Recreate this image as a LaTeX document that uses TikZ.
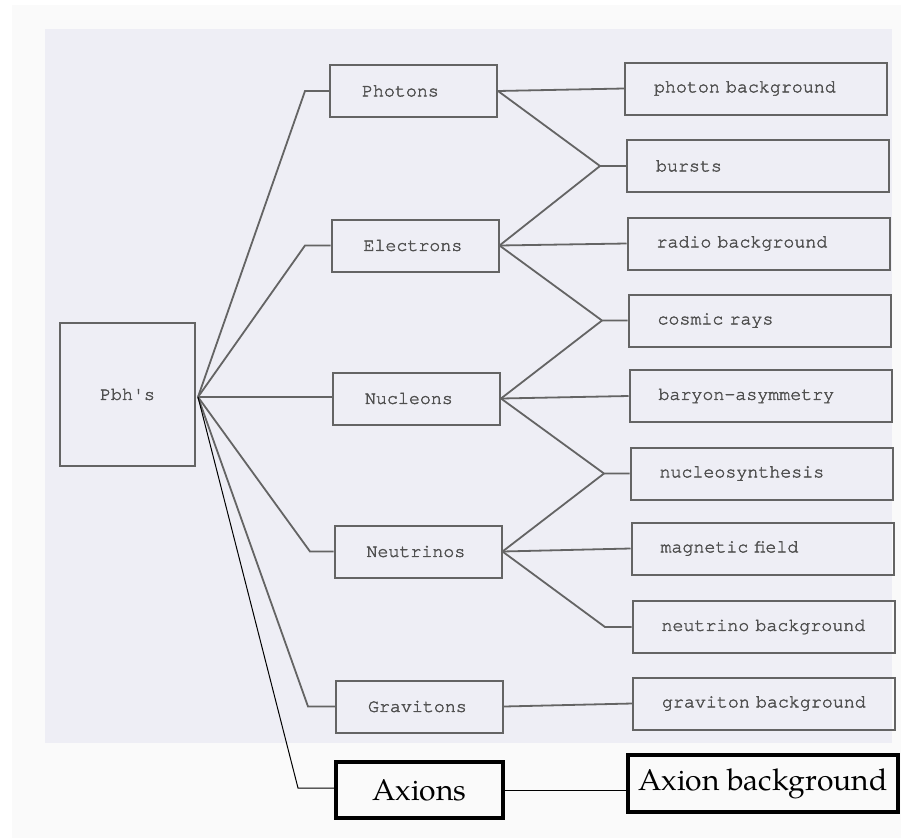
\documentclass[tikz,border=0pt]{standalone}
\usepackage{fontspec}
\setmonofont[FakeBold=2]{texgyrecursor-regular.otf}
\newfontfamily\axfont{texgyrepagella-regular.otf}
\usetikzlibrary{calc}
\definecolor{scan}{RGB}{238,238,245}
\definecolor{page}{RGB}{250,250,250}
\definecolor{lgrey}{RGB}{100,100,100}
\definecolor{tgrey}{RGB}{80,80,80}
\newcommand\twfont{\ttfamily\fontsize{18.3}{20}\selectfont}
\tikzset{
  conn/.style={draw=lgrey, line width=1.8pt},
  aconn/.style={draw=black, line width=1pt},
  box/.style={draw=lgrey, line width=2pt, minimum height=52pt, align=left,
    font=\twfont, text=tgrey, inner ysep=0pt,
    execute at begin node={\hbox\bgroup}, execute at end node={\egroup}},
  lbox/.style={box, inner xsep=32pt, text width=103pt},
  rbox/.style={box, inner xsep=29pt, text width=204pt},
  abox/.style={draw=black, line width=4pt, minimum height=56pt, inner xsep=0pt,
    font=\axfont\fontsize{30}{32}\selectfont, text=black}
}
\begin{document}
\begin{tikzpicture}[x=1pt,y=-1pt]
\useasboundingbox (0,0) rectangle (901,838);
\fill[white] (0,0) rectangle (901,838);
\fill[page] (12,5) rectangle (901,838);
\fill[scan] (45,29) rectangle (892,743);

% left column
\node[box, minimum width=135pt, minimum height=143pt, inner xsep=0pt, align=center] (pbh) at (127.5,394.5) {Pbh's};
\node[lbox] (photons) at (413.5,91) {Photons};
\node[lbox] (electrons) at (415,245.5) {Electrons};
\node[lbox] (nucleons) at (416.5,398.5) {Nucleons};
\node[lbox] (neutrinos) at (418,551.5) {Neutrinos};
\node[lbox] (gravitons) at (419.5,706.5) {Gravitons};
\node[abox, minimum width=167pt] (axions) at (419.5,790) {Axions};

% right column
\node[rbox] (phbg) at (756,88.5) {photon background};
\node[rbox] (bursts) at (758,166) {bursts};
\node[rbox] (radio) at (758.5,243.5) {radio background};
\node[rbox] (cosmic) at (759.5,320.5) {cosmic rays};
\node[rbox] (baryon) at (760.5,396) {baryon-asymmetry};
\node[rbox] (nucleo) at (761.5,473.5) {nucleosynthesis};
\node[rbox] (magn) at (762.5,548.5) {magnetic field};
\node[rbox] (nubg) at (763.5,627) {neutrino background};
\node[rbox] (gravbg) at (764,703.5) {graviton background};
\node[abox, minimum width=270pt, minimum height=57pt] (axbg) at (763,783.5) {Axion background};

% elbow coordinates
\coordinate (hub) at (198,397);
\coordinate (e1) at (305,91);
\coordinate (e2) at (305,245.5);
\coordinate (e4) at (310,551.5);
\coordinate (e5) at (308,706.5);
\coordinate (e6) at (298,788);
\coordinate (j1) at (600,166);
\coordinate (j2) at (602,320.5);
\coordinate (j3) at (604,473.5);
\coordinate (j4) at (605,627);

% left fan
\draw[conn] (hub) -- (e1) -- (photons.west);
\draw[conn] (hub) -- (e2) -- (electrons.west);
\draw[conn] (hub) -- (hub -| nucleons.west);
\draw[conn] (hub) -- (e4) -- (neutrinos.west);
\draw[conn] (hub) -- (e5) -- (gravitons.west);
\draw[aconn] (hub) -- (e6) -- (e6 -| axions.west);

% right connections
\draw[conn] (photons.east) -- (phbg.west);
\draw[conn] (photons.east) -- (j1) -- (bursts.west);
\draw[conn] (electrons.east) -- (j1);
\draw[conn] (electrons.east) -- (radio.west);
\draw[conn] (electrons.east) -- (j2) -- (cosmic.west);
\draw[conn] (nucleons.east) -- (j2);
\draw[conn] (nucleons.east) -- (baryon.west);
\draw[conn] (nucleons.east) -- (j3) -- (nucleo.west);
\draw[conn] (neutrinos.east) -- (j3);
\draw[conn] (neutrinos.east) -- (magn.west);
\draw[conn] (neutrinos.east) -- (j4) -- (nubg.west);
\draw[conn] (gravitons.east) -- (gravbg.west);
\draw[aconn] (axions.east) -- (axions.east -| axbg.west);
\end{tikzpicture}
\end{document}
